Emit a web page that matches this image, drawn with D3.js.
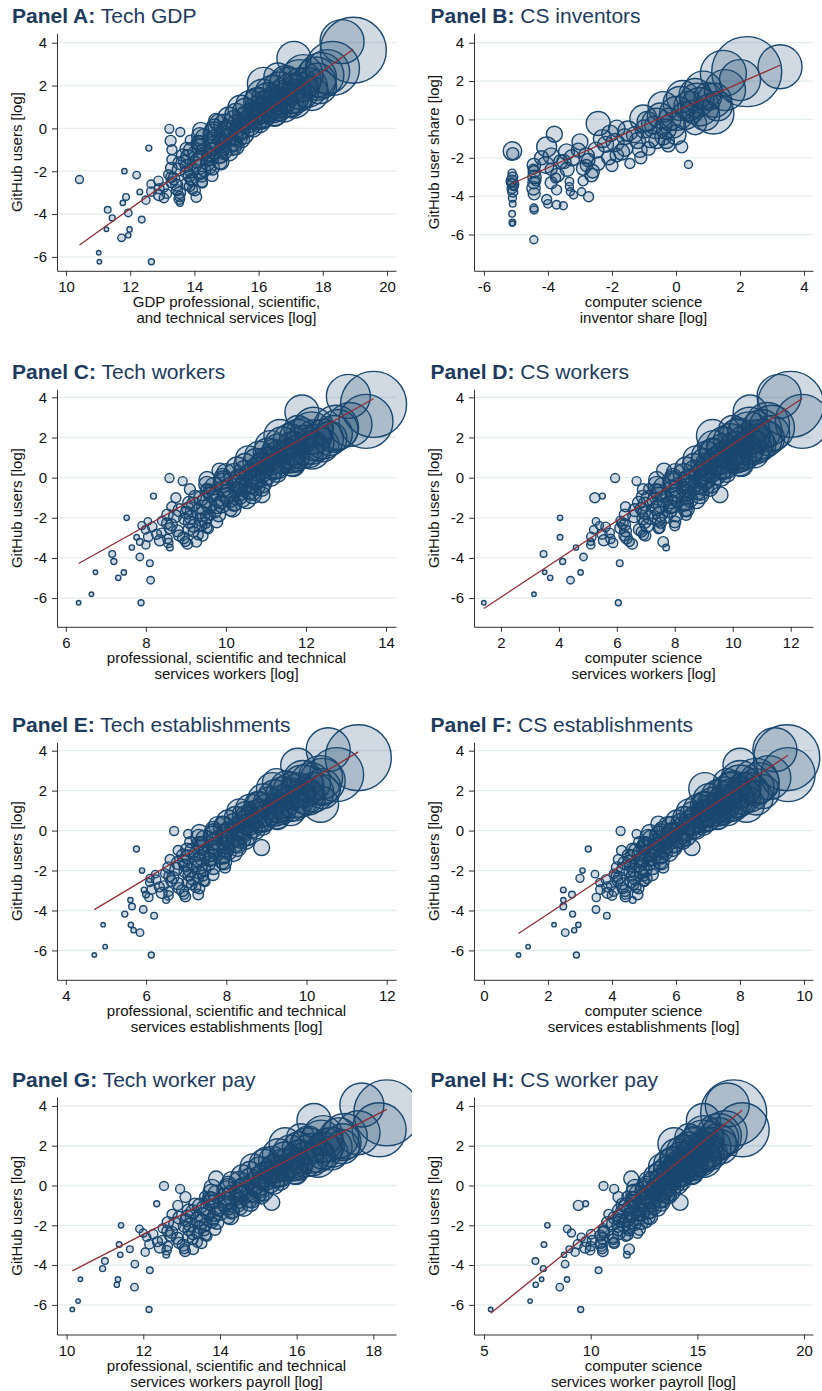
<!DOCTYPE html>
<html><head><meta charset="utf-8">
<script src="https://cdn.jsdelivr.net/npm/d3@7"></script>
<style>
body{margin:0;background:#fff}
svg{display:block}
text{font-family:"Liberation Sans",Arial,Helvetica,sans-serif}
</style>
</head><body>
<svg id="chart" width="822" height="1391"></svg>
<script>
// ---------- DATA ----------
// Shared entities (y = GitHub users [log], bubble weight) for panels A, C-H
const usersLog = [
 -6.23,-6.23,-5.81,-5.11,-4.99,-4.71,-4.72,
 -2.0,-2.18,-2.97,-3.8,-4.18,-4.26,-3.48,-3.2,-3.95,-2.39,-3.2,-0.55,-0.85,-1.85,-2.4,-3.48,
 0.35,-0.02,-0.17,-0.58,-0.92,-1.0,
 -3.35,-3.25,-3.3,-2.95,-3.05,-3.0,-2.9,-2.75,-2.65,-2.7,-2.6,-2.45,-2.35,-2.4,-2.5,-2.15,-2.05,-2.1,-2.2,
 -1.85,-1.75,-1.8,-1.85,-1.45,-1.55,-1.5,-1.45,-1.55,-1.25,-1.15,-1.2,-1.3,-1.1,-0.95,-0.85,-0.9,-0.95,-0.85,
 -0.65,-0.55,-0.6,-0.65,-0.55,-0.35,-0.25,-0.3,-0.35,-0.25,0.05,-0.05,0.0,0.05,0.25,0.35,0.3,0.25,
 0.65,0.55,0.6,0.65,0.95,0.85,0.9,1.25,1.15,1.2,1.55,1.45,1.5,1.85,1.75,
 -3.12,-3.18,-2.82,-2.88,-2.85,-2.52,-2.58,-2.55,-2.28,-2.22,-2.25,-1.92,-1.98,-1.95,-1.62,-1.68,-1.65,-1.6,
 -1.32,-1.38,-1.35,-1.3,-1.02,-1.08,-1.05,-1.1,-0.72,-0.78,-0.75,-0.7,-0.42,-0.48,-0.45,-0.4,-0.12,-0.18,-0.15,-0.1,
 0.18,0.12,0.15,0.48,0.42,0.45,0.78,0.72,0.75,1.08,1.02,1.05,1.38,1.32,1.68,1.62,1.98,1.92,2.22,2.18,2.52,2.48,
 3.65,4.05,2.8,2.65,2.4,3.27,1.32,1.63,2.1,2.4,2.18,2.03,1.16,0.85,1.0,1.32,0.7,1.95
];
const bubbleWeight = [
 5,9,5,14,7,5,7,
 7,14,8,11,9,11,7,11,14,16,28,25,64,30,25,11,
 56,20,20,30,9,25,
 17,22,28,22,22,35,28,22,35,28,17,22,35,42,28,22,35,42,35,
 32,40,58,48,25,40,58,48,68,40,58,48,58,79,40,58,68,58,79,
 48,68,58,79,58,68,93,80,93,105,68,93,105,93,80,105,122,93,
 124,162,180,140,162,203,180,203,227,203,252,280,280,280,338,
 30,25,25,30,25,30,36,25,30,36,30,41,48,41,41,56,48,41,
 48,56,64,48,56,64,74,56,64,74,64,74,76,97,86,97,86,109,97,66,
 109,122,109,122,135,122,180,218,180,218,259,218,259,304,288,392,338,392,450,338,392,512,
 1089,484,729,484,400,289,324,289,256,196,256,289,225,169,225,144,121,289
];
const xTechGDP = [
 11.04,12.66,11.02,11.73,11.94,11.26,11.98,
 11.82,12.2,12.3,11.3,11.44,12.36,11.77,11.87,11.94,10.42,14.06,13.87,15.3,14.5,13.9,13.55,
 14.68,13.22,13.56,13.26,12.58,13.3,
 12.49,13.05,13.53,12.66,13.14,13.54,14.02,13.05,13.45,13.85,12.65,12.88,13.36,13.92,14.24,13.19,13.75,14.15,14.55,
 13.28,13.76,14.16,14.56,13.3,13.7,14.1,14.42,14.82,13.64,14.04,14.44,14.76,15.08,13.75,14.15,14.55,14.87,15.19,
 14.12,14.52,14.84,15.16,15.48,14.17,14.57,14.89,15.21,15.53,14.62,15.02,15.42,15.82,14.76,15.24,15.64,16.04,
 15.3,15.7,16.1,16.5,15.44,16.0,16.48,15.98,16.54,17.02,16.12,16.68,17.16,16.66,17.3,
 12.9,13.54,12.9,13.46,13.94,13.29,13.77,14.25,13.28,13.84,14.24,13.51,13.91,14.31,13.53,14.01,14.41,14.81,
 13.79,14.19,14.51,14.83,13.89,14.29,14.61,14.93,14.18,14.58,14.9,15.22,14.31,14.71,15.03,15.35,14.6,15.0,15.4,14.2,
 14.93,15.33,15.73,15.07,15.55,15.95,15.61,16.09,16.49,15.75,16.23,16.63,16.29,16.85,16.43,16.99,16.89,17.53,17.28,17.84,17.39,17.95,
 18.95,18.6,18.3,18.15,17.8,17.1,17.1,17.65,16.15,16.6,16.85,17.3,16.4,16.15,16.8,15.95,15.85,17.9
];
const xTechWorkers = [
 6.32,7.88,6.64,8.12,7.31,6.74,7.45,
 7.52,8.05,7.77,7.16,7.2,8.1,7.65,7.85,7.85,7.9,9.26,9.5,10.9,9.6,9.4,8.6,
 9.84,8.59,8.92,9.1,8.19,8.75,
 8.0,8.56,9.04,8.06,8.54,8.94,9.42,8.39,8.79,9.19,7.99,8.16,8.64,9.2,9.52,8.41,8.97,9.37,9.77,
 8.54,9.02,9.42,9.82,8.65,9.05,9.45,9.77,10.17,9.08,9.48,9.88,10.2,10.52,9.23,9.63,10.03,10.35,10.67,
 9.54,9.94,10.26,10.58,10.9,9.53,9.93,10.25,10.57,10.89,9.92,10.32,10.72,11.12,10.0,10.48,10.88,11.28,
 10.48,10.88,11.28,11.68,10.56,11.12,11.6,11.04,11.6,12.08,11.12,11.68,12.16,11.6,12.24,
 8.35,8.99,8.27,8.83,9.31,8.6,9.08,9.56,8.53,9.09,9.49,8.73,9.13,9.53,8.84,9.32,9.72,10.12,
 9.19,9.59,9.91,10.23,9.38,9.78,10.1,10.42,9.63,10.03,10.35,10.67,9.7,10.1,10.42,10.74,9.93,10.33,10.73,9.53,
 10.2,10.6,11.0,10.28,10.76,11.16,10.76,11.24,11.64,10.84,11.32,11.72,11.32,11.88,11.4,11.96,11.8,12.44,12.14,12.7,12.19,12.75,
 13.69,13.06,13.5,13.1,12.8,11.9,12.15,12.4,11.35,11.8,11.9,12.2,11.5,11.0,11.7,11.2,10.9,12.6
];
const xCSWorkers = [
 1.41,6.05,3.14,4.4,3.7,3.51,4.75,
 4.04,5.28,4.04,3.47,4.13,6.1,4.59,5.1,4.85,5.4,7.6,7.1,9.56,8.39,8.0,7.7,
 7.63,5.94,6.68,6.9,5.5,5.24,
 5.1,5.87,6.53,5.12,5.78,6.33,6.99,5.75,6.3,6.85,5.2,5.61,6.27,7.04,7.48,6.13,6.9,7.45,8.0,
 6.28,6.94,7.49,8.04,6.3,6.85,7.4,7.84,8.39,6.76,7.31,7.86,8.3,8.74,6.89,7.44,7.99,8.43,8.87,
 7.35,7.9,8.34,8.78,9.22,7.37,7.92,8.36,8.8,9.24,7.94,8.49,9.04,9.59,8.02,8.68,9.23,9.78,
 8.65,9.2,9.75,10.3,8.73,9.5,10.16,9.32,10.09,10.75,9.34,10.11,10.77,9.91,10.79,
 5.55,6.43,5.49,6.26,6.92,6.12,6.78,7.44,6.2,6.97,7.52,6.6,7.15,7.7,6.62,7.28,7.83,8.38,
 6.97,7.52,7.96,8.4,7.1,7.65,8.09,8.53,7.45,8.0,8.44,8.88,7.58,8.13,8.57,9.01,7.93,8.48,9.03,7.38,
 8.31,8.86,9.41,8.39,9.05,9.6,9.02,9.68,10.23,9.09,9.75,10.3,9.66,10.43,9.68,10.45,10.14,11.02,10.56,11.33,10.58,11.35,
 12.0,11.6,12.4,11.2,11.0,10.6,10.4,10.9,9.3,10.0,10.2,10.7,9.9,9.4,10.1,9.3,9.1,11.2
];
const xTechEst = [
 4.71,6.13,4.98,5.85,5.69,4.93,5.62,
 5.9,6.23,5.95,5.65,5.47,6.2,5.61,6.0,5.93,6.1,7.3,7.4,8.88,7.97,7.3,6.5,
 7.9,6.7,7.05,7.1,5.76,6.8,
 6.07,6.56,6.98,6.14,6.56,6.91,7.33,6.44,6.79,7.14,6.09,6.25,6.67,7.16,7.44,6.48,6.97,7.32,7.67,
 6.56,6.98,7.33,7.68,6.6,6.95,7.3,7.58,7.93,6.92,7.27,7.62,7.9,8.18,7.02,7.37,7.72,8.0,8.28,
 7.31,7.66,7.94,8.22,8.5,7.32,7.67,7.95,8.23,8.51,7.68,8.03,8.38,8.73,7.78,8.2,8.55,8.9,
 8.23,8.58,8.93,9.28,8.33,8.82,9.24,8.8,9.29,9.71,8.93,9.42,9.84,9.41,9.97,
 6.39,6.95,6.33,6.82,7.24,6.63,7.05,7.47,6.58,7.07,7.42,6.75,7.1,7.45,6.79,7.21,7.56,7.91,
 7.04,7.39,7.67,7.95,7.15,7.5,7.78,8.06,7.38,7.73,8.01,8.29,7.46,7.81,8.09,8.37,7.68,8.03,8.38,7.33,
 7.94,8.29,8.64,8.04,8.46,8.81,8.49,8.91,9.26,8.6,9.02,9.37,9.08,9.57,9.21,9.7,9.62,10.18,9.9,10.39,9.91,10.4,
 11.29,10.54,10.75,10.35,10.1,9.78,10.35,10.05,9.15,9.25,9.5,9.8,9.3,8.7,9.6,8.8,8.5,10.4
];
const xCSEst = [
 1.08,2.89,1.38,2.54,2.82,2.19,2.95,
 3.08,3.47,2.48,2.48,2.77,3.84,2.48,2.75,3.5,3.0,4.8,5.0,6.5,5.6,5.1,4.65,
 5.45,4.27,4.77,4.85,3.26,4.3,
 3.51,4.0,4.42,3.64,4.06,4.41,4.83,3.97,4.32,4.67,3.62,3.81,4.23,4.72,5.0,4.07,4.56,4.91,5.26,
 4.16,4.58,4.93,5.28,4.2,4.55,4.9,5.18,5.53,4.52,4.87,5.22,5.5,5.78,4.65,5.0,5.35,5.63,5.91,
 5.03,5.38,5.66,5.94,6.22,5.13,5.48,5.76,6.04,6.32,5.58,5.93,6.28,6.63,5.74,6.16,6.51,6.86,
 6.25,6.6,6.95,7.3,6.41,6.9,7.32,6.9,7.39,7.81,7.03,7.52,7.94,7.51,8.07,
 3.86,4.42,3.84,4.33,4.75,4.17,4.59,5.01,4.15,4.64,4.99,4.35,4.7,5.05,4.39,4.81,5.16,5.51,
 4.64,4.99,5.27,5.55,4.75,5.1,5.38,5.66,5.05,5.4,5.68,5.96,5.22,5.57,5.85,6.13,5.53,5.88,6.23,5.18,
 5.87,6.22,6.57,6.03,6.45,6.8,6.54,6.96,7.31,6.7,7.12,7.47,7.18,7.67,7.31,7.8,7.72,8.28,8.0,8.49,8.01,8.5,
 9.46,9.09,9.5,8.9,8.6,8.0,8.2,8.5,6.9,7.6,7.8,8.1,7.3,6.9,7.6,6.9,6.6,8.7
];
const xTechPay = [
 10.15,12.15,10.3,11.77,11.31,10.36,11.34,
 11.42,11.9,11.37,11.0,10.94,12.17,11.4,11.65,11.78,12.0,13.3,13.6,15.35,13.8,13.4,12.6,
 13.9,12.54,12.96,13.1,12.35,12.9,
 12.05,12.61,13.09,12.16,12.64,13.04,13.52,12.49,12.89,13.29,12.09,12.26,12.74,13.3,13.62,12.51,13.07,13.47,13.87,
 12.64,13.12,13.52,13.92,12.75,13.15,13.55,13.87,14.27,13.18,13.58,13.98,14.3,14.62,13.35,13.75,14.15,14.47,14.79,
 13.72,14.12,14.44,14.76,15.08,13.77,14.17,14.49,14.81,15.13,14.22,14.62,15.02,15.42,14.3,14.78,15.18,15.58,
 14.78,15.18,15.58,15.98,14.86,15.42,15.9,15.38,15.94,16.42,15.52,16.08,16.56,16.06,16.7,
 12.43,13.07,12.37,12.93,13.41,12.7,13.18,13.66,12.63,13.19,13.59,12.83,13.23,13.63,12.94,13.42,13.82,14.22,
 13.29,13.69,14.01,14.33,13.48,13.88,14.2,14.52,13.78,14.18,14.5,14.82,13.91,14.31,14.63,14.95,14.2,14.6,15.0,13.8,
 14.5,14.9,15.3,14.58,15.06,15.46,15.06,15.54,15.94,15.15,15.63,16.03,15.69,16.25,15.83,16.39,16.29,16.93,16.64,17.2,16.69,17.25,
 18.35,17.7,18.15,17.6,17.1,16.45,16.55,16.9,15.7,16.1,16.3,16.8,15.8,15.4,16.0,15.2,15.3,17.2
];
const xCSPay = [
 5.31,9.53,7.16,8.55,7.42,7.7,8.89,
 7.97,8.9,7.81,7.41,7.78,10.37,8.75,9.0,8.8,9.1,11.8,11.7,14.19,12.6,12.2,11.7,
 11.9,10.6,11.1,11.3,9.76,9.42,
 9.27,9.97,10.57,9.4,10.0,10.5,11.1,10.06,10.56,11.06,9.56,10.02,10.62,11.32,11.72,10.58,11.28,11.78,12.28,
 10.78,11.38,11.88,12.38,10.85,11.35,11.85,12.25,12.75,11.32,11.82,12.32,12.72,13.12,11.49,11.99,12.49,12.89,13.29,
 11.96,12.46,12.86,13.26,13.66,12.03,12.53,12.93,13.33,13.73,12.6,13.1,13.6,14.1,12.67,13.27,13.77,14.27,
 13.24,13.74,14.24,14.74,13.31,14.01,14.61,13.9,14.6,15.2,14.0,14.7,15.3,14.6,15.4,
 9.74,10.54,9.78,10.48,11.08,10.44,11.04,11.64,10.6,11.3,11.8,11.05,11.55,12.05,11.12,11.72,12.22,12.72,
 11.49,11.99,12.39,12.79,11.66,12.16,12.56,12.96,12.03,12.53,12.93,13.33,12.2,12.7,13.1,13.5,12.57,13.07,13.57,12.07,
 12.94,13.44,13.94,13.01,13.61,14.11,13.58,14.18,14.68,13.65,14.25,14.75,14.25,14.95,14.35,15.05,14.85,15.65,15.26,15.96,15.3,16.0,
 16.7,16.4,17.1,16.3,16.0,15.28,15.3,15.6,13.9,14.6,14.9,15.4,14.5,13.9,14.8,13.8,13.6,16.1
];
// Panel B: CS inventor share vs GitHub user share
const invShare = [
 -5.11,-5.1,-5.12,-5.1,-5.13,-5.09,-5.12,-5.1,-5.11,-5.1,-5.12,-5.11,-5.11,-5.15,-5.06,
 -4.44,-4.46,-4.43,-4.42,-4.44,-4.45,-4.43,-4.44,-4.43,-4.44,-4.38,
 -4.04,-4.0,-3.73,-3.52,-3.73,-3.76,-3.7,-3.33,-3.33,-3.3,-3.2,-2.95,-2.73,-4.07,-4.04,-3.8,-3.42,-3.6,-3.9,-3.25,-3.05,
 -3.0,-2.9,-2.74,-2.64,-2.43,-2.8,-2.43,-2.06,-1.85,-2.2,-1.85,-1.44,-1.6,-1.13,-0.86,-1.3,-1.0,-0.4,-0.24,0.18,0.39,-0.7,-1.6,-2.5,-2.1,-1.2,-0.6,
 -2.3,-1.9,-1.5,-0.9,-0.5,0.4,0.9,1.2,-2.8,-3.4,-2.0,-1.1,-0.8,-0.1,0.6,-3.9,-3.5,-2.6,-1.7,-0.3,0.6,1.3,-4.2,-3.9,-2.9,
 -1.02,-0.4,0.13,0.65,0.85,1.17,1.53,2.21,3.25,1.48,2.0,0.02,-0.6,0.75,0.3,-0.2,0.5,0.2,1.0,-0.3,0.0
];
const invUserShare = [
 -1.65,-1.78,-2.8,-3.0,-3.2,-3.38,-3.6,-3.78,-4.1,-4.4,-4.92,-5.37,-5.42,-3.3,-3.5,
 -2.38,-2.6,-2.73,-3.0,-3.3,-3.59,-3.88,-4.62,-4.72,-6.27,-3.2,
 -4.17,-4.4,-4.45,-4.5,-3.67,-3.05,-2.9,-3.24,-3.5,-3.77,-3.94,-3.77,-4.03,-2.37,-1.43,-0.77,-1.69,-2.2,-2.6,-2.0,-1.6,
 -1.17,-2.56,-2.12,-2.9,-2.3,-2.4,-0.21,-0.73,-0.47,-1.3,-1.86,-2.3,-1.5,-1.6,-1.51,-0.8,-0.5,-0.9,-1.34,-1.43,-2.35,-0.3,-0.9,-1.6,-2.0,-1.1,-1.1,
 -1.0,-1.2,-0.6,-0.1,0.2,0.7,0.2,1.0,-1.9,-2.6,-2.4,-2.0,-1.0,-0.3,-0.2,-3.3,-2.2,-2.7,-1.7,-1.1,1.3,0.7,-2.0,-1.9,-3.2,
 0.05,0.66,0.83,1.0,1.53,0.31,1.53,2.49,2.75,2.4,2.05,0.31,-0.21,0.66,0.2,0.0,0.4,1.2,1.2,-0.5,-0.8
];
const invWeight = [
 86,36,16,25,32,32,25,25,16,11,11,11,7,20,16,
 45,25,36,45,36,45,36,16,16,16,25,
 25,18,18,16,25,25,45,18,16,16,16,16,25,69,100,64,64,49,36,64,49,
 64,45,45,45,45,36,144,69,69,64,45,25,64,53,45,64,81,69,45,36,16,81,64,64,49,64,64,
 81,81,100,100,160,220,220,290,64,49,36,36,81,160,130,36,49,45,64,64,255,220,49,64,25,
 180,230,290,290,360,420,420,1225,484,529,420,290,230,360,190,130,130,255,190,100,100
];
// Fitted-line coefficients per panel (A..H)
const fitSlope = [1.072, 0.737, 1.113, 0.952, 1.2, 1.06, 0.99, 0.865];
const fitIntercept = [-16.62, 0.43, -11.31, -7.86, -9.61, -6.30, -14.34, -11.01];
const yTickValues = [-6,-4,-2,0,2,4];
const panelLetters = ['A','B','C','D','E','F','G','H'];
const panelNames = ['Tech GDP','CS inventors','Tech workers','CS workers','Tech establishments','CS establishments','Tech worker pay','CS worker pay'];
const xTickSets = [[10,12,14,16,18,20],[-6,-4,-2,0,2,4],[6,8,10,12,14],[2,4,6,8,10,12],[4,6,8,10,12],[0,2,4,6,8,10],[10,12,14,16,18],[5,10,15,20]];
const xTitles = [
 ['GDP professional, scientific,','and technical services [log]'],
 ['computer science','inventor share [log]'],
 ['professional, scientific and technical','services workers [log]'],
 ['computer science','services workers [log]'],
 ['professional, scientific and technical','services establishments [log]'],
 ['computer science','services establishments [log]'],
 ['professional, scientific and technical','services workers payroll [log]'],
 ['computer science','services worker payroll [log]']
];
const yTitles = ['GitHub users [log]','GitHub user share [log]','GitHub users [log]','GitHub users [log]','GitHub users [log]','GitHub users [log]','GitHub users [log]','GitHub users [log]'];
const xDomains = [[9.72,20.28],[-6.31,4.28],[5.78,14.25],[1.07,12.77],[3.78,12.23],[-0.31,10.28],[9.75,18.59],[4.53,20.42]];
const yDomains = [[-6.65,4.44],[-7.89,4.49],[-7.43,4.4],[-7.43,4.4],[-7.47,4.42],[-7.47,4.42],[-7.49,4.45],[-7.49,4.45]];

// ---------- LAYOUT / STYLE ----------
const NAVY = '#1a476f', MAROON = '#8f2f36', TITLE = '#1c3a5e';
const colLeft = [57, 474], colRight = [396, 813];
const rowTop = [33.3, 389.3, 742.3, 1097];
const plotH = 237.5;

const svg = d3.select('#chart');
svg.append('defs').append('clipPath').attr('id','clipL')
  .append('rect').attr('x',0).attr('y',0).attr('width',412).attr('height',1391);

const rScale = d3.scaleSqrt().domain([0, 1089]).range([0, 33]);
const xSeries = [xTechGDP, invShare, xTechWorkers, xCSWorkers, xTechEst, xCSEst, xTechPay, xCSPay];

panelLetters.forEach((L, i) => {
  const col = i % 2, row = Math.floor(i / 2);
  const left = colLeft[col], right = colRight[col];
  const top = rowTop[row], bottom = top + plotH;
  const xs = xSeries[i];
  const ys = i === 1 ? invUserShare : usersLog;
  const ws = i === 1 ? invWeight : bubbleWeight;

  const x = d3.scaleLinear().domain(xDomains[i]).range([left, right]);
  const y = d3.scaleLinear().domain(yDomains[i]).range([bottom, top]);
  const g = svg.append('g');

  g.append('g').selectAll('line').data(yTickValues).join('line')
    .attr('x1', left).attr('x2', right)
    .attr('y1', d => y(d)).attr('y2', d => y(d))
    .attr('stroke', '#e4edf0').attr('stroke-width', 1.3);

  const pts = xs.map((v, k) => ({x: v, y: ys[k], w: ws[k]}));
  const bub = g.append('g');
  if (col === 0) bub.attr('clip-path', 'url(#clipL)');
  bub.selectAll('circle').data(pts).join('circle')
    .attr('cx', d => x(d.x)).attr('cy', d => y(d.y)).attr('r', d => rScale(d.w))
    .attr('fill', NAVY).attr('fill-opacity', 0.2)
    .attr('stroke', NAVY).attr('stroke-width', 1.4);

  const [xmin, xmax] = d3.extent(xs);
  const fit = v => fitIntercept[i] + fitSlope[i] * v;
  g.append('line')
    .attr('x1', x(xmin)).attr('y1', y(fit(xmin)))
    .attr('x2', x(xmax)).attr('y2', y(fit(xmax)))
    .attr('stroke', MAROON).attr('stroke-width', 1.3);

  const ax = g.append('g').attr('transform', `translate(0,${bottom})`)
    .call(d3.axisBottom(x).tickValues(xTickSets[i]).tickSize(5).tickSizeOuter(0).tickPadding(6).tickFormat(d => String(d)));
  const ay = g.append('g').attr('transform', `translate(${left},0)`)
    .call(d3.axisLeft(y).tickValues(yTickValues).tickSize(5).tickSizeOuter(0).tickPadding(5).tickFormat(d => String(d)));
  [ax, ay].forEach(a => {
    a.select('.domain').attr('stroke', '#333').attr('stroke-width', 1);
    a.selectAll('.tick line').attr('stroke', '#333');
    a.selectAll('.tick text').attr('fill', '#111').style('font-size', '15px')
      .style('font-family', '"Liberation Sans",Arial,sans-serif');
  });

  xTitles[i].forEach((t, k) => {
    g.append('text').attr('x', (left + right) / 2).attr('y', bottom + 36 + k * 16)
      .attr('text-anchor', 'middle').attr('fill', '#111').style('font-size', '15px').text(t);
  });
  g.append('text')
    .attr('transform', `translate(${left - 35},${(top + bottom) / 2}) rotate(-90)`)
    .attr('text-anchor', 'middle').attr('fill', '#111').style('font-size', '15px').text(yTitles[i]);

  const tt = g.append('text').attr('x', col === 0 ? 12 : 430.5).attr('y', top - 10)
    .attr('fill', TITLE).style('font-size', '21px');
  tt.append('tspan').attr('font-weight', 'bold').text('Panel ' + L + ':');
  tt.append('tspan').text(' ' + panelNames[i]);
});
</script>
</body></html>
